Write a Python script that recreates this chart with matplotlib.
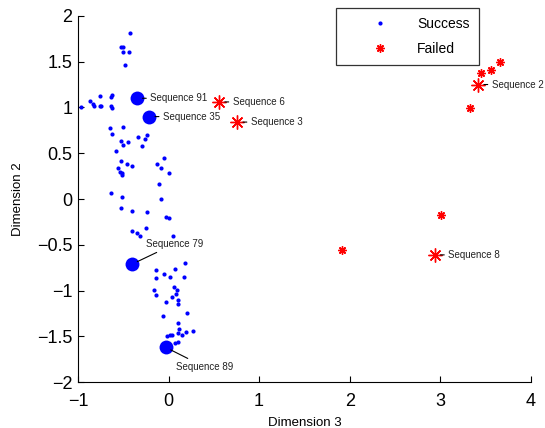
import numpy as np
import matplotlib
matplotlib.use('Agg')
import matplotlib.pyplot as plt

plt.rcParams['font.family'] = ['Liberation Sans', 'DejaVu Sans']

# Success sequences (Dimension 3, Dimension 2)
success_x = [-0.43, -0.52, -0.50, -0.50, -0.44, -0.48, -0.97, -0.87, -0.83, -0.82,
             -0.76, -0.76, -0.74, -0.64, -0.62, -0.64, -0.62, -0.65, -0.62, -0.50,
             -0.53, -0.50, -0.45, -0.34, -0.29, -0.26, -0.24, -0.58, -0.53, -0.56,
             -0.54, -0.51, -0.51, -0.46, -0.40, -0.13, -0.08, -0.05, 0.00, -0.11,
             -0.63, -0.51, -0.08, -0.52, -0.40, -0.24, -0.03, 0.01, -0.40, -0.35,
             -0.32, -0.25, 0.05, -0.14, -0.14, -0.05, 0.02, 0.07, 0.18, 0.17,
             -0.16, -0.14, 0.06, 0.09, 0.08, 0.04, -0.03, 0.10, 0.11, -0.06,
             0.20, 0.11, 0.12, 0.11, 0.19, 0.27, 0.15, 0.02, -0.02, 0.04,
             0.10, 0.07]
success_y = [1.81, 1.66, 1.66, 1.61, 1.60, 1.46, 1.01, 1.07, 1.04, 1.02,
             1.13, 1.02, 1.02, 1.11, 1.14, 1.02, 0.99, 0.77, 0.71, 0.79,
             0.63, 0.59, 0.62, 0.68, 0.58, 0.65, 0.70, 0.52, 0.41, 0.34,
             0.30, 0.28, 0.26, 0.38, 0.36, 0.38, 0.34, 0.45, 0.28, 0.16,
             0.07, 0.02, 0.00, -0.10, -0.13, -0.14, -0.20, -0.21, -0.35, -0.37,
             -0.40, -0.32, -0.40, -0.78, -0.86, -0.82, -0.85, -0.76, -0.70, -0.85,
             -0.99, -1.05, -0.96, -0.99, -1.04, -1.07, -1.12, -1.10, -1.15, -1.28,
             -1.24, -1.35, -1.42, -1.46, -1.45, -1.44, -1.49, -1.49, -1.50, -1.48,
             -1.56, -1.57]

# Failed sequences
failed_x = [3.66, 3.56, 3.45, 3.33, 3.01, 1.91]
failed_y = [1.50, 1.41, 1.38, 0.99, -0.17, -0.56]

# Highlighted sequences
hl_success_names = ['Sequence 91', 'Sequence 35', 'Sequence 79', 'Sequence 89']
hl_success_x = [-0.35, -0.21, -0.40, -0.03]
hl_success_y = [1.10, 0.90, -0.71, -1.62]
hl_failed_names = ['Sequence 6', 'Sequence 3', 'Sequence 2', 'Sequence 8']
hl_failed_x = [0.56, 0.76, 3.42, 2.94]
hl_failed_y = [1.06, 0.84, 1.25, -0.61]

# label offsets in points
label_offsets = {'Sequence 79': (9.6, 14.4), 'Sequence 89': (7.2, -14.0)}

fig = plt.figure(figsize=(5.45, 4.28), dpi=100)
ax = fig.add_axes([0.143, 0.107, 0.831, 0.856])

star = (8, 2, 0)
ax.plot(success_x, success_y, 'o', color='blue', ms=3, mew=0, label='Success')
ax.plot(failed_x, failed_y, marker=star, ls='none', color='red', ms=6, mew=1.0, label='Failed')
ax.plot(hl_success_x, hl_success_y, 'o', color='blue', ms=10, mew=0)
ax.plot(hl_failed_x, hl_failed_y, marker=star, ls='none', color='red', ms=10, mew=1.0)

for name, x, y in zip(hl_success_names + hl_failed_names,
                      hl_success_x + hl_failed_x, hl_success_y + hl_failed_y):
    off = label_offsets.get(name, (9.8, 0))
    ax.annotate(name, xy=(x, y), xytext=off, textcoords='offset points',
                ha='left', va='center', fontsize=7, color='#222222',
                arrowprops=dict(arrowstyle='-', color='black', lw=0.8,
                                shrinkA=1, shrinkB=4))

ax.set_xlim(-1, 4)
ax.set_ylim(-2, 2)
ax.set_xticks(np.arange(-1, 5, 1))
ax.set_yticks(np.arange(-2, 2.5, 0.5))
ax.set_yticklabels(['\u22122', '\u22121.5', '\u22121', '\u22120.5', '0', '0.5', '1', '1.5', '2'])
ax.set_xticklabels(['\u22121', '0', '1', '2', '3', '4'])
ax.tick_params(direction='in', labelsize=13, length=4, width=0.8)
ax.tick_params(axis='x', pad=8)
ax.tick_params(axis='y', pad=4)
ax.spines['top'].set_visible(False)
ax.spines['right'].set_visible(False)
for s in ['left', 'bottom']:
    ax.spines[s].set_linewidth(0.8)

ax.set_xlabel('Dimension 3', fontsize=9.5, labelpad=5)
ax.set_ylabel('Dimension 2', fontsize=9.5, labelpad=9)

leg = ax.legend(loc='upper left', bbox_to_anchor=(336 / 545, 1 - 8 / 428),
                bbox_transform=fig.transFigure, fontsize=10, frameon=True,
                fancybox=False, edgecolor='black', handlelength=5.0,
                handletextpad=0.2, borderpad=0.65, labelspacing=0.8,
                borderaxespad=0)
leg.get_frame().set_linewidth(0.9)

fig.savefig('out.png', dpi=100)
